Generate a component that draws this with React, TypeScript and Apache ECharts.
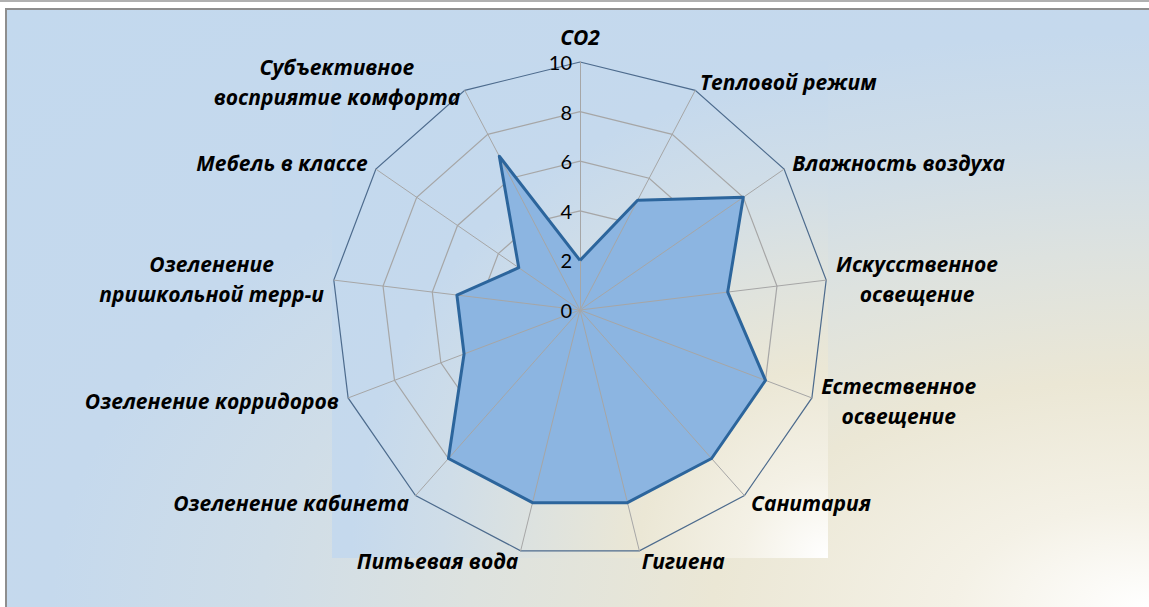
import React, { useEffect, useRef } from 'react';
import * as echarts from 'echarts';

// Indicators, clockwise from the top (as in the reference)
const categories: string[] = [
  'CO2',
  'Тепловой режим',
  'Влажность воздуха',
  'Искусственное\nосвещение',
  'Естественное\nосвещение',
  'Санитария',
  'Гигиена',
  'Питьевая вода',
  'Озеленение кабинета',
  'Озеленение корридоров',
  'Озеленение\nпришкольной терр-и',
  'Мебель в классе',
  'Субъективное\nвосприятие комфорта',
];

const values: number[] = [2, 5, 8, 6, 8, 8, 8, 8, 8, 5, 5, 3, 7];

const axisMin = 0;
const axisMax = 10;
const splitCount = 5;

const NAME_FONT = '"Open Sans", Lato, "Noto Sans", sans-serif';
const TICK_FONT = 'Lato, "Open Sans", sans-serif';
const BG =
  'radial-gradient(ellipse farthest-corner at 100% 100%, #ffffff 0%, #f4f1e6 12%, #ebe7d5 27%, #dde2df 42%, #cfdde8 55%, #c5d9ed 68%, #c3d9ee 100%)';

export default function App() {
  const ref = useRef<HTMLDivElement>(null);

  useEffect(() => {
    if (!ref.current) return;
    const chart = echarts.init(ref.current, null, { renderer: 'svg' });

    // ECharts lays radar indicators out counter-clockwise; keep the first at the top
    // and reverse the rest so they run clockwise like the reference.
    const order = [0, ...categories.slice(1).map((_, i) => categories.length - 1 - i)];
    const makeIndicators = (withLabel: boolean) =>
      order.map((idx) => {
        const item: any = { name: categories[idx], min: axisMin, max: axisMax };
        if (withLabel && idx === 0) item.axisLabel = { show: true };
        return item;
      });
    const seriesValues = order.map((idx) => values[idx]);

    const gray = '#a6a6a6';
    const common = {
      center: [580, 310],
      radius: 248,
      startAngle: 90,
      splitNumber: splitCount,
      shape: 'polygon',
      splitArea: { show: false },
      axisTick: { show: false },
    };
    const nameStyle = {
      color: '#000',
      fontFamily: NAME_FONT,
      fontWeight: 'bold',
      fontStyle: 'italic',
      fontSize: 21,
    };

    chart.setOption({
      animation: false,
      backgroundColor: 'transparent',
      radar: [
        // rings (drawn beneath the filled area)
        {
          ...common,
          z: 0,
          axisName: { show: false },
          axisLine: { show: false },
          axisLabel: { show: false },
          splitLine: {
            lineStyle: {
              color: [gray, gray, gray, gray, gray, '#4d6b8d'],
              width: 1.2,
            },
          },
          indicator: makeIndicators(false),
        },
        // spokes, names and tick labels (drawn over the filled area)
        {
          ...common,
          z: 2,
          nameGap: 10,
          axisName: {
            ...nameStyle,
            formatter: (name: string) =>
              name
                .split('\n')
                .map((l) => `{c|${l}}`)
                .join('\n'),
            rich: { c: { ...nameStyle, align: 'center', lineHeight: 30 } },
          },
          axisLine: { lineStyle: { color: gray, width: 1 } },
          splitLine: { show: false },
          axisLabel: {
            show: false,
            color: '#000',
            fontFamily: TICK_FONT,
            fontSize: 20,
            margin: 8,
          },
          indicator: makeIndicators(true),
        },
      ],
      series: [
        {
          type: 'radar',
          radarIndex: 0,
          z: 1,
          symbol: 'none',
          silent: true,
          lineStyle: { width: 0, opacity: 0 },
          areaStyle: { color: '#8cb5e1', opacity: 1 },
          data: [{ value: seriesValues }],
        },
        {
          type: 'radar',
          radarIndex: 0,
          z: 3,
          symbol: 'none',
          silent: true,
          lineStyle: { color: '#2c659c', width: 3 },
          data: [{ value: seriesValues }],
        },
      ],
    });

    return () => chart.dispose();
  }, []);

  return (
    <div
      style={{
        position: 'fixed',
        left: 0,
        top: 0,
        width: 1149,
        height: 607,
        overflow: 'hidden',
        background: '#ffffff',
      }}
    >
      <div style={{ position: 'absolute', left: 0, top: 0, width: 1149, height: 2, background: '#b0b0b0' }} />
      <div
        style={{
          position: 'absolute',
          left: 5,
          top: 8,
          width: 1144,
          height: 599,
          boxSizing: 'border-box',
          borderTop: '2px solid #8e8e8e',
          borderLeft: '2px solid #8e8e8e',
          background: BG,
        }}
      />
      <div style={{ position: 'absolute', left: 332, top: 62, width: 496, height: 496, background: BG }} />
      <div ref={ref} style={{ position: 'absolute', left: 0, top: 0, width: 1149, height: 607 }} />
    </div>
  );
}
